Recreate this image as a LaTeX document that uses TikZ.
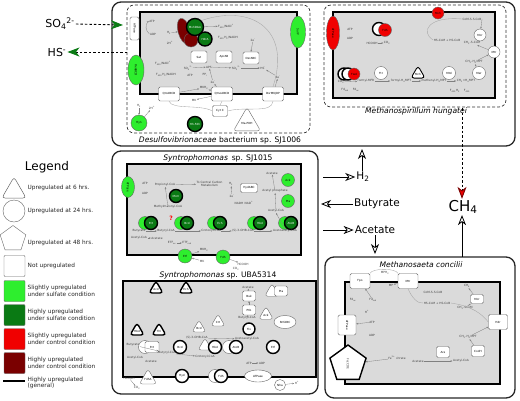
\documentclass[tikz,border=0pt]{standalone}
\usepackage{fontspec}
\setmainfont{DejaVu Sans}
\setsansfont{DejaVu Sans}
\usetikzlibrary{arrows.meta, positioning, shapes.geometric, calc}
\definecolor{cgrey}{HTML}{DADADA}
\definecolor{cslight}{HTML}{2EEE2E}
\definecolor{chigh}{HTML}{0A7A14}
\definecolor{cslightr}{HTML}{F00000}
\definecolor{chighr}{HTML}{7A0000}
\tikzset{
  every picture/.style={font=\sffamily, line width=0.4pt},
  org/.style={draw=black!85, line width=1.3pt, rounded corners=9pt},
  memb/.style={draw=black!80, dash pattern=on 3pt off 2pt, line width=0.7pt, rounded corners=7pt},
  cell/.style={draw=black, line width=1.6pt, fill=cgrey},
  title/.style={font=\fontsize{7.6}{8.5}\selectfont, inner sep=1pt},
  lbl/.style={font=\fontsize{2.9}{3.3}\selectfont, text=black!75, inner sep=0.4pt, align=center},
  pbox/.style={draw=black!60, fill=white, rounded corners=1.5pt, minimum width=16pt, minimum height=12pt, inner sep=0.5pt, font=\fontsize{2.8}{3.2}\selectfont},
  pcirc/.style={circle, draw=black!60, fill=#1, minimum size=12pt, inner sep=0pt, font=\fontsize{2.8}{3.2}\selectfont},
  pcirc/.default=white,
  ptri/.style={regular polygon, regular polygon sides=3, rounded corners=3pt, draw=black!60, fill=#1, minimum size=16pt, inner sep=0pt, font=\fontsize{2.8}{3.2}\selectfont},
  ptri/.default=white,
  pell/.style={ellipse, draw=black!60, fill=#1, inner sep=0pt, font=\fontsize{2.8}{3.2}\selectfont},
  pell/.default=white,
  hi/.style={draw=black, line width=1.4pt},
  dk/.style={text=white},
  conn/.style={-{Stealth[length=2pt, width=1.6pt]}, draw=black!50, line width=0.3pt},
  flow/.style={draw=black!35, line width=0.35pt},
  exch/.style={-{Stealth[open, length=10pt, width=8pt, inset=3pt, line width=0.8pt]}, line width=0.8pt},
  big/.style={font=\fontsize{10.5}{12}\selectfont, inner sep=1pt},
  legtxt/.style={font=\fontsize{5.8}{6.4}\selectfont, align=left, anchor=west, inner sep=0.5pt, text=black!85},
  legsq/.style={draw=black!60, rounded corners=1pt, minimum size=21pt, inner sep=0pt},
}

\begin{document}
\begin{tikzpicture}[x=1pt, y=-1pt]
  \useasboundingbox (0,0) rectangle (520,400);

  % organism frames
  \draw[org] (112,2) rectangle (515,146);
  \draw[org] (112,151) rectangle (318,394);
  \draw[org] (325,257) rectangle (515,398);

  % Desulfovibrionaceae
  \draw[memb] (127,5) rectangle (310,133);
  \draw[cell] (140,12) rectangle (297,94);
  \node[title] (tdes) at (220,140) {\textit{Desulfovibrionaceae} bacterium sp. SJ1006};
  \node[pbox, rotate=-90, minimum width=23pt, minimum height=9pt] (datp) at (134.5,28.5) {ATPase};
  \node[lbl] (datpA) at (152,21) {ATP};
  \node[lbl] (dadp) at (153,34) {ADP};
  \draw[conn] (dadp.west) to[bend left=50] (datpA.west);
  \node[pell=chighr, minimum width=12pt, minimum height=26pt, rotate=15] (dred1) at (184,31) {};
  \node[pcirc=chighr, minimum size=14pt] (dred2) at (191,40) {};
  \node[pcirc=chigh, hi, dk, minimum size=17pt] (dmvh) at (195,27) {MvhDGA};
  \node[pcirc=chigh, hi, dk, minimum size=14pt] (dhdr) at (205,39) {HdrA};
  \node[lbl] (dh2) at (169,33) {H\textsubscript{2}};
  \node[lbl] (dhp) at (170,43) {2H\textsuperscript{+}};
  \node[lbl] (df1) at (226,26) {F\textsubscript{420}/NAD\textsuperscript{+}};
  \node[lbl] (df2) at (228,38) {F\textsubscript{420}H\textsubscript{2}/NADH};
  \draw[conn] (dh2) -- (dred1);
  \draw[conn] (dmvh) -- (df1);
  \node[pell=cslight, rotate=-90, minimum width=30pt, minimum height=16pt] (dflx) at (136,70) {FlxABCD};
  \node[lbl] (df3) at (163,63) {F\textsubscript{420}/NAD\textsuperscript{+}};
  \node[lbl] (df4) at (166,75) {F\textsubscript{420}H\textsubscript{2}/NADH};
  \node[pbox] (dsat) at (199,57) {Sat};
  \node[pbox] (dapr) at (224,57) {AprAB};
  \node[pbox] (ddsr) at (251,58) {DsrABC};
  \node[lbl] (dso4) at (188,68) {SO\textsubscript{4}\textsuperscript{2-}};
  \node[lbl] (daps) at (209,67) {APS};
  \node[lbl] (dso3) at (236,68) {SO\textsubscript{3}\textsuperscript{2-}};
  \node[lbl] (dhs) at (263,68) {HS\textsuperscript{-}};
  \node[lbl] (datp2) at (190,75) {ATP};
  \node[lbl] (dppi) at (205,75) {PP\textsubscript{i}};
  \node[lbl] (de1) at (213,82) {2e\textsuperscript{-}};
  \node[lbl] (de2) at (253,40) {2e\textsuperscript{-}};
  \node[lbl] (de3) at (278,77) {6e\textsuperscript{-}};
  \draw[conn] (dso4) -- (daps);
  \draw[conn] (daps) -- (dso3);
  \draw[conn] (dso3) -- (dhs);
  \draw[conn] (de2) -- (ddsr.north);
  \draw[conn] (de1) -- (daps);
  \draw[conn] (de3) -- (dhs);
  \node[pbox, minimum width=21pt, minimum height=14pt] (dqrc) at (169,94) {QrcABCD};
  \node[pbox, minimum width=21pt, minimum height=14pt] (dqmo) at (222,94) {QmoABCD};
  \node[pbox, minimum width=21pt, minimum height=14pt] (ddsrm) at (273,94) {DsrMKJOP};
  \node[lbl] (dmkh) at (204,88) {MKH\textsubscript{2}};
  \node[lbl] (dmk) at (194,100) {MK};
  \draw[conn] (dqrc) -- (dmkh);
  \draw[conn] (dmkh) -- (dqmo);
  \draw[conn] (dqmo) -- (dmk);
  \draw[conn] (dqmo) -- (de1);
  \draw[conn] (ddsrm) -- (de3);
  \node[pbox, minimum width=15pt, minimum height=11pt] (dcyt) at (220,111) {Cyt C};
  \node[pcirc=chigh, hi, dk, minimum size=15pt] (dfdh) at (195,124) {Hh-Fdh};
  \node[ptri, minimum size=22pt] (dpdh) at (247,123) {Ma-PDH};
  \node[pcirc=cslight, minimum size=16pt] (dhyn) at (139,123) {Hyn};
  \node[lbl] (dh22) at (139,106) {H\textsubscript{2}};
  \node[lbl] (dhp2) at (152,108) {2H\textsuperscript{+}};
  \draw[conn] (dh22) -- (dhyn);
  \draw[conn] (dhyn) -- (dhp2);
  \node[pell=cslight, rotate=-90, minimum width=32pt, minimum height=15pt] (dsul) at (298,32) {SulP};
  \draw[flow] (dqrc.south) .. controls (172,110) and (200,104) .. (dcyt.west);
  \draw[flow] (dcyt.east) .. controls (245,106) and (272,114) .. (ddsrm.south);
  \draw[flow] (dcyt.north) -- (dqmo.south);
  \draw[flow] (dmvh.north east) .. controls (250,4) and (292,28) .. (ddsrm.north);

  % Methanospirillum
  \draw[memb] (324,5) rectangle (506,107);
  \draw[cell] (333,12) rectangle (495,98);
  \node[title] (tmsp) at (416,111) {\textit{Methanospirillum hungatei}};
  \node[pell=cslightr, rotate=-90, minimum width=34pt, minimum height=13pt] (matp) at (333,33) {ATPase};
  \node[lbl] (matpA) at (350,29) {ATP};
  \node[lbl] (madp) at (350,38) {ADP};
  \node[pcirc, hi, minimum size=13pt] (mfdh0) at (379,29) {};
  \node[pcirc=cslightr, minimum size=13pt] (mfdh) at (385,30) {Fdh};
  \node[lbl] (mform) at (372,43) {HCOOH};
  \node[lbl] (mco2a) at (387,43) {CO\textsubscript{2}};
  \draw[conn] (mform) -- (mco2a);
  \node[pcirc=cslightr, minimum size=12pt] (mmvh) at (438,13) {Mvh};
  \node[lbl] (mcoms) at (472,19) {CoM-S-S-CoB};
  \node[pcirc, minimum size=12pt] (mmcr) at (480,35) {Mcr};
  \node[lbl] (mhs) at (447,40) {HS-CoM + HS-CoB};
  \node[lbl] (mch3s) at (472,43) {CH\textsubscript{3}-S-CoM};
  \node[pcirc, minimum size=12pt] (mmtr) at (494,52) {Mtr};
  \node[lbl] (mch3h) at (474,62) {CH\textsubscript{3}-H\textsubscript{4}MPT};
  \draw[flow] (mhs.west) .. controls (420,32) and (428,16) .. (mcoms.west);
  \draw[conn] (mcoms.east) -- (mmcr);
  \draw[conn] (mch3h) -- (mmtr);
  \draw[conn] (mmtr) -- (mch3s);
  \node[pcirc, hi, minimum size=12pt] (mfwd1) at (344,74) {};
  \node[pcirc, hi, minimum size=12pt] (mfwd2) at (348,74) {};
  \node[pcirc=cslightr, minimum size=12pt] (mfwd) at (354,74) {Fwd};
  \node[pcirc, minimum size=13pt] (mftr) at (381,73) {Ftr};
  \node[ptri, hi, line width=0.9pt] (mmch) at (418,74) {Mch};
  \node[pcirc, minimum size=13pt] (mmtd) at (449,73) {Mtd};
  \node[pcirc, minimum size=13pt] (mmer) at (479,73) {Mer};
  \node[lbl] (mco2b) at (341,82) {CO\textsubscript{2}};
  \node[lbl] (mfmfr) at (366,81) {formyl-MFR};
  \node[lbl] (mfh4) at (401,81) {formyl-H\textsubscript{4}MPT};
  \node[lbl] (mmeh) at (434,81) {methenyl-H\textsubscript{4}MPT};
  \node[lbl] (mmeth) at (466,81) {CH\textsubscript{2}=H\textsubscript{4}MPT};
  \node[lbl] (mfdr) at (345,90) {Fd\textsubscript{red}};
  \node[lbl] (mfdo) at (356,90) {Fd\textsubscript{ox}};
  \node[lbl] (mf1) at (455,91) {F\textsubscript{420}H\textsubscript{2}};
  \node[lbl] (mf2) at (467,91) {F\textsubscript{420}};
  \draw[conn] (mco2b) -- (mfmfr);
  \draw[conn] (mfmfr) -- (mfh4);
  \draw[conn] (mfh4) -- (mmeh);
  \draw[conn] (mmeh) -- (mmeth);
  \draw[conn] (mmer) -- (mch3h);

  % exchange between the partners
  \node[font=\fontsize{11}{13}\selectfont, inner sep=1pt] (so4) at (60,24) {SO\textsubscript{4}\textsuperscript{2-}};
  \node[font=\fontsize{11}{13}\selectfont, inner sep=1pt] (hs) at (57,52) {HS\textsuperscript{-}};
  \coordinate (desIn) at (123,25);
  \coordinate (desOut) at (127,52);
  \draw[dash pattern=on 2.5pt off 2pt, line width=0.9pt, -{Stealth[length=12pt, width=9pt, inset=3.5pt, color=chigh]}] (so4.east) -- (desIn);
  \draw[dash pattern=on 2.5pt off 2pt, line width=0.9pt, -{Stealth[length=12pt, width=9pt, inset=3.5pt, color=chigh]}] (desOut) -- (hs.east);
  \node[big] (h2) at (363,177) {H\textsubscript{2}};
  \node[big] (but) at (377,204) {Butyrate};
  \node[big] (ace) at (375,230) {Acetate};
  \node[font=\fontsize{15}{17}\selectfont, inner sep=1pt] (ch4) at (463,207) {CH\textsubscript{4}};
  \coordinate (synH2) at (323,177);
  \coordinate (synBut) at (321,204);
  \coordinate (synAce) at (323,230);
  \coordinate (topH2) at (362,149);
  \coordinate (msaAce) at (375,254);
  \coordinate (msaCH4) at (462,257);
  \coordinate (mspCH4) at (462,108);
  \draw[exch] (synH2) -- (h2.west);
  \draw[exch] (h2.north -| topH2) -- (topH2);
  \draw[exch] (but.west) -- (synBut);
  \draw[exch] (synAce) -- (ace.west);
  \draw[exch] (ace.south -| msaAce) -- (msaAce);
  \draw[exch] (msaCH4) -- (ch4.south -| msaCH4);
  \draw[dash pattern=on 2.5pt off 2pt, line width=0.9pt, -{Stealth[length=12pt, width=9pt, inset=3.5pt, color=chighr, fill=cslightr]}] (mspCH4) -- (ch4.north -| mspCH4);

  % Syntrophomonas sp. SJ1015
  \node[title] (tsj) at (218,158) {\textit{Syntrophomonas}\, sp. SJ1015};
  \draw[cell] (127,164) rectangle (301,255);
  \node[pell=cslight, rotate=-90, minimum width=21pt, minimum height=13pt] (satp) at (128,187) {ATPase};
  \node[lbl] (satpA) at (145,183) {ATP};
  \node[lbl] (sadp) at (145,193) {ADP};
  \node[lbl] (sprop) at (165,185) {Propionyl-CoA};
  \node[lbl, anchor=west] (scen) at (196,184) {To Central Carbon\\Metabolism};
  \draw[conn] (sprop) -- (scen);
  \node[pcirc=chigh, hi, dk, minimum size=13pt] (smcm) at (176,196) {Mcm};
  \node[lbl] (smm) at (168,207) {Methylmalonyl-CoA};
  \draw[conn] (smm) -- (sprop);
  \node[text=red, font=\fontsize{6}{6}\selectfont\bfseries, inner sep=0pt] (sq) at (171,218) {?};
  \foreach \n/\x/\t in {spct/149/Pct, sbcd/185/Bcd, sech/218/Ech, shbd/258/Hbd, sato/289/AtoB} {
    \node[pcirc=cslight, minimum size=13pt] (\n0) at (\x-4,223) {};
    \node[pcirc=chigh, hi, dk, minimum size=13pt] (\n) at (\x+2,223) {\t};
  }
  \node[pcirc=cslight, minimum size=13pt] (sack) at (288,180) {Ack};
  \node[pcirc=cslight, minimum size=13pt] (spta) at (288,201) {Pta};
  \node[pbox, minimum width=17pt, minimum height=9pt] (shyd) at (249,188) {HydABC};
  \node[lbl] (sh2) at (231,184) {H\textsubscript{2}};
  \node[lbl] (se2) at (232,196) {2e\textsuperscript{-}};
  \node[lbl] (snad) at (244,203) {NADH\, NAD\textsuperscript{+}};
  \node[lbl] (sac) at (272,173) {Acetate};
  \node[lbl] (saclp) at (275,191) {Acetyl phosphate};
  \node[lbl] (sacc) at (276,211) {Acetyl-CoA};
  \draw[conn] (sacc) -- (saclp);
  \draw[conn] (saclp) -- (sac);
  \draw[conn] (se2) -- (sh2);
  \node[lbl] (sbut) at (139,231) {Butyrate};
  \node[lbl] (sbucoa) at (166,231) {Butyryl-CoA};
  \node[lbl] (scro) at (211,231) {Crotonyl-CoA};
  \node[lbl] (soh) at (243,231) {(S)-3-OHB-CoA};
  \node[lbl] (saca) at (285,231) {Acetoacetyl-CoA};
  \node[lbl] (sacc2) at (139,238) {Acetyl-CoA};
  \node[lbl] (sace) at (157,238) {Acetate};
  \node[lbl] (setf) at (172,243) {ETF\textsubscript{ox}};
  \node[lbl] (setfr) at (187,243) {ETF\textsubscript{red}};
  \draw[conn] (sbut) -- (sbucoa);
  \draw[conn] (sbucoa) -- (scro);
  \draw[conn] (scro) -- (soh);
  \draw[conn] (soh) -- (saca);
  \draw[conn] (saca.north) -- (sacc.south);
  \draw[conn] (sacc2) -- (sace);
  \draw[conn] (setf) -- (setfr);
  \node[pcirc=cslight, minimum size=14pt] (setfb) at (185,256) {Etf};
  \node[pcirc=cslight, minimum size=14pt] (sfdh) at (223,257) {Fdh};
  \node[lbl] (smkh) at (204,250) {MKH\textsubscript{2}};
  \node[lbl] (smk) at (202,261) {MK};
  \node[lbl] (sform) at (243,264) {HCOOH};
  \node[lbl] (sco2) at (236,269) {CO\textsubscript{2}};
  \draw[conn] (setfb) -- (smkh);
  \draw[conn] (smk) -- (setfb);
  \draw[conn] (sfdh) -- (sform);

  % Syntrophomonas sp. UBA5314
  \node[title] (tuba) at (218,275) {\textit{Syntrophomonas} sp. UBA5314};
  \draw[cell] (123,281) rectangle (316,377);
  \node[ptri, hi] (uacd) at (156,289) {Acd};
  \node[ptri, hi] (uech) at (186,289) {Ech};
  \node[ptri, hi] (uhbd) at (137,331) {Hbd};
  \node[ptri, hi] (uthl) at (159,331) {Thl};
  \node[pbox, minimum width=13pt, minimum height=10pt] (ubuk) at (249,296) {Buk};
  \node[pbox, minimum width=13pt, minimum height=10pt] (uptb) at (249,310) {Ptb};
  \node[ptri, minimum size=17pt] (upta0) at (272,292) {};
  \node[pbox, minimum width=13pt, minimum height=10pt] (upta) at (281,291) {Pta};
  \node[ptri, minimum size=17pt] (uack) at (266,315) {Ack};
  \node[pell, minimum width=22pt, minimum height=13pt] (urnf) at (285,322) {RnfABC};
  \node[pcirc, hi, minimum size=12pt] (ufix) at (249,329) {Fix};
  \node[ptri, minimum size=16pt] (ubcd0) at (199,328) {Bcd};
  \node[ptri, minimum size=16pt] (ucrt) at (218,322) {Crt};
  \node[pcirc, minimum size=13pt] (upct0) at (145,347) {};
  \node[pbox, minimum width=14pt, minimum height=11pt] (upct) at (152,347) {Pct};
  \node[pcirc, hi, minimum size=13pt] (ubcd) at (180,347) {Bcd};
  \node[ptri, minimum size=16pt] (uhbd0) at (205,346) {};
  \node[pcirc, hi, minimum size=13pt] (uhbd2) at (215,347) {Hbd};
  \node[pcirc, minimum size=13pt] (uato0) at (229,347) {};
  \node[pcirc, hi, minimum size=13pt] (uato) at (236,347) {AtoB};
  \node[pcirc, hi, minimum size=13pt] (uetf) at (273,347) {Etf};
  \node[ptri, minimum size=18pt] (ufdha) at (148,379) {FdhA};
  \node[pcirc, hi, minimum size=13pt] (uhyd) at (182,376) {Hyd};
  \node[pcirc, minimum size=13pt] (ufdh0) at (215,376) {};
  \node[pcirc, hi, minimum size=13pt] (ufdh) at (221,376) {Fdh};
  \node[pell, minimum width=27pt, minimum height=12pt] (uatpase) at (258,376) {ATPase};
  \node[pcirc, minimum size=11pt] (unha) at (280,385) {Nha};
  \node[lbl] (ubut) at (133,345) {Butyrate};
  \node[lbl] (ubuco) at (167,353) {Butyryl-CoA};
  \node[lbl] (ucro) at (205,357) {Crotonyl-CoA};
  \node[lbl] (uacc) at (135,358) {Acetyl-CoA};
  \node[lbl] (uace) at (151,361) {Acetate};
  \node[lbl] (uoh) at (197,338) {(S)-3-OHB-CoA};
  \node[lbl] (uaca) at (247,339) {Acetoacetyl-CoA};
  \node[lbl] (uace2) at (248,287) {Acetate};
  \node[lbl] (ubuco2) at (247,318) {Butyryl-CoA};
  \node[lbl] (uatp) at (249,363) {ATP};
  \node[lbl] (uadp) at (262,363) {ADP};
  \node[lbl] (uform) at (129,378) {HCOOH};
  \node[lbl] (uco2) at (137,388) {CO\textsubscript{2}};
  \node[lbl] (uhp) at (297,383) {H\textsuperscript{+}};
  \draw[conn] (ubut) -- (ubuco);
  \draw[conn] (ubuco) -- (ucro);
  \draw[conn] (uoh) -- (uaca);
  \draw[conn] (ubuco2) -- (uptb);
  \draw[conn] (uptb) -- (ubuk);
  \draw[conn] (ubuk) -- (uace2);
  \draw[conn] (uform) -- (uco2);
  \draw[conn] (uatp) -- (uadp);
  \draw[conn] (unha) -- (uhp);

  % Methanosaeta concilii
  \node[title] (tmsa) at (421,265) {\textit{Methanosaeta concilii}};
  \draw[cell] (345,282) rectangle (500,384);
  \node[pbox, minimum width=20pt, minimum height=15pt] (afpo) at (360,281) {Fpo};
  \node[pbox, minimum width=20pt, minimum height=15pt] (amtr) at (408,281) {Mtr};
  \node[pbox, minimum width=13pt, minimum height=9pt] (amcr) at (477,299) {Mcr};
  \node[pbox, minimum width=19pt, minimum height=15pt] (ahdr) at (498,322) {Hdr};
  \node[pbox, minimum width=13pt, minimum height=11pt] (aacs) at (443,352) {Acs};
  \node[pbox, minimum width=13pt, minimum height=11pt] (acod) at (478,351) {CodH};
  \node[pbox, rotate=-90, minimum width=20pt, minimum height=18pt] (aatp) at (347,325) {ATPase};
  \node[regular polygon, regular polygon sides=5, hi, fill=white, minimum size=38pt, inner sep=0pt,
        label={[lbl, rotate=-90]center:FecCDE}] (afec) at (348,364) {};
  \node[lbl] (amph) at (385,273) {MPH\textsubscript{2}};
  \node[lbl] (amp) at (391,285) {MP};
  \node[lbl] (afdo) at (353,300) {Fd\textsubscript{ox}};
  \node[lbl] (afdr) at (373,300) {Fd\textsubscript{red}};
  \node[lbl] (ahp) at (367,312) {H\textsuperscript{+}};
  \node[lbl] (aatpA) at (372,322) {ATP};
  \node[lbl] (aadp) at (372,335) {ADP};
  \node[lbl] (afe) at (397,358) {Fe\textsuperscript{3+} citrate};
  \node[lbl] (acoms) at (433,292) {CoM-S-S-CoB};
  \node[lbl] (ahs) at (437,303) {HS-CoM + HS-CoB};
  \node[lbl] (ach4) at (467,286) {CH\textsubscript{4}};
  \node[lbl] (ach3s) at (465,308) {CH\textsubscript{3}-SCoM};
  \node[lbl] (ach3h) at (468,337) {CH\textsubscript{3}-H\textsubscript{4}MPT};
  \node[lbl] (aace) at (418,361) {Acetate};
  \node[lbl] (aacc) at (461,361) {Acetyl-CoA};
  \draw[flow] (afpo.north east) .. controls (372,268) and (396,268) .. (amtr.north west);
  \draw[conn] (amtr) -- (amp);
  \draw[conn] (afdr) -- (afpo);
  \draw[conn] (aatpA) -- (aatp);
  \draw[conn] (afe) -- (afec);
  \draw[flow] (amtr.south) .. controls (412,298) and (418,304) .. (ahs.west);
  \draw[flow] (ahs.east) .. controls (472,306) and (482,314) .. (ahdr.west);
  \draw[conn] (amcr) -- (ach4);
  \draw[conn] (ach3s) -- (amcr);
  \draw[conn] (ach3h) -- (ahdr);
  \draw[conn] (aace) -- (aacc);
  \draw[conn] (acod) -- (ach3h);

  % legend
  \node[font=\fontsize{12}{14}\selectfont, inner sep=1pt] (legend) at (47,167) {Legend};
  \node[ptri, minimum size=28pt, line width=0.5pt] (lg6) at (14,191) {};
  \node[legtxt] (lt6) at (27,188) {Upregulated at 6 hrs.};
  \node[circle, draw=black!60, minimum size=22pt, inner sep=0pt] (lg24) at (14,211) {};
  \node[legtxt] (lt24) at (27,211) {Upregulated at 24 hrs.};
  \node[regular polygon, regular polygon sides=5, draw=black!60, minimum size=27pt, inner sep=0pt] (lg48) at (13,239) {};
  \node[legtxt] (lt48) at (27,243) {Upregulated at 48 hrs.};
  \node[legsq] (lgno) at (14.5,266) {};
  \node[legtxt] (ltno) at (27,266) {Not upregulated};
  \foreach \c/\t [count=\i] in {cslight/{Slightly upregulated\\under sulfate condition},
                                chigh/{Highly upregulated\\under sulfate condition},
                                cslightr/{Slightly upregulated\\under control condition},
                                chighr/{Highly upregulated\\under control condition}} {
    \node[legsq, fill=\c] (lgc\i) at (14.5,{267+24*\i}) {};
    \node[legtxt] (ltc\i) at (27,{267+24*\i}) {\t};
  }
  \node[fill=black, minimum width=22pt, minimum height=2.6pt, inner sep=0pt] (lghi) at (14,381) {};
  \node[legtxt] (lthi) at (27,383) {Highly upregulated\\(general)};
\end{tikzpicture}
\end{document}
